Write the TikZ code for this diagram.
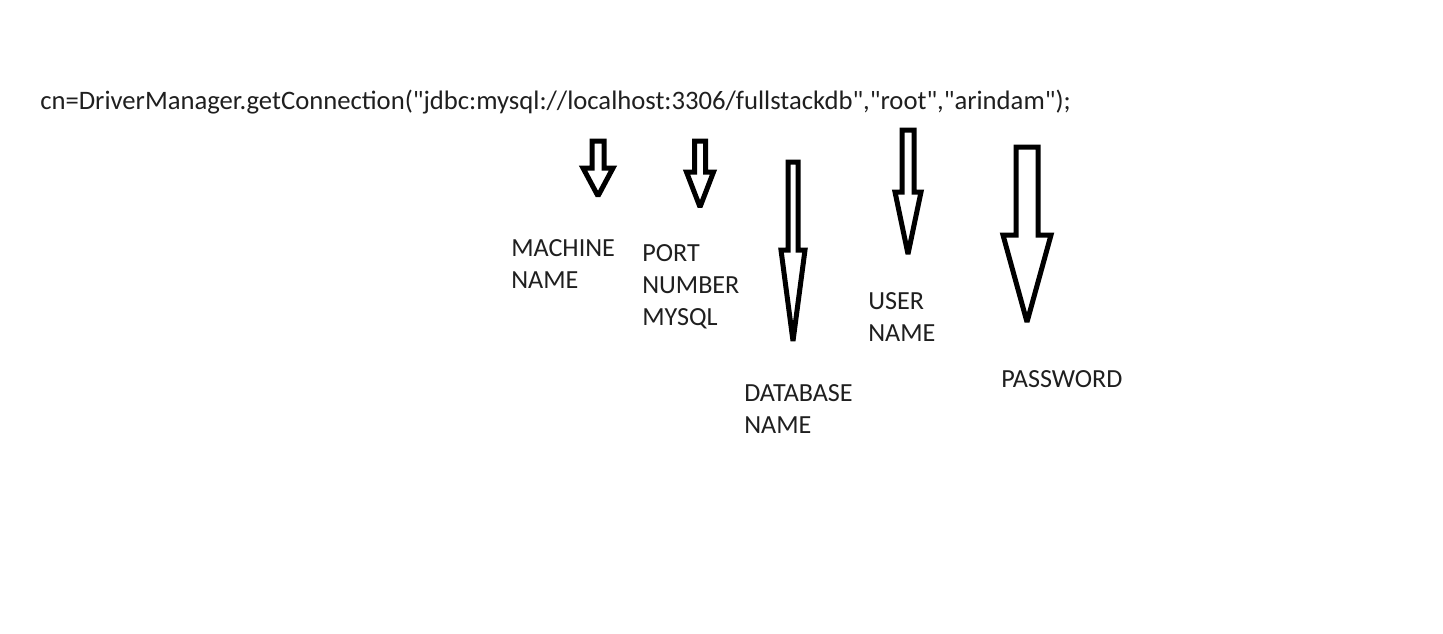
\documentclass[tikz,border=0pt]{standalone}
\usepackage{fontspec}
\setmainfont{Carlito}[Ligatures=TeXOff]
\usetikzlibrary{positioning}
\tikzset{
  lbl/.style = {anchor=north west, inner sep=0pt, align=left, text=black!88,
    font=\fontsize{19.6}{24}\selectfont},
  blockarrow/.style = {draw=black, line width=3.75pt, line join=miter,
    miter limit=2}
}

\begin{document}
\begin{tikzpicture}[x=0.75pt,y=-0.75pt]
\useasboundingbox (0,0) rectangle (1443,633);
\node [lbl, anchor=base west, font=\fontsize{20}{24}\selectfont] (conn) at (40,109)
  {cn=DriverManager.getConnection("jdbc:mysql://localhost:3306/fullstackdb","root","arindam");};
% block arrows: centre x, top, shaft half width, head start, head half width, tip
\foreach \cx/\top/\sw/\hy/\hw/\tip in {598/141/6/168/15/196, 700/141/5.5/172/13.5/207,
  793/162/5/250/12/341, 908/130/6/192/13/254, 1027/147/11/235/24/322}
  \draw [blockarrow] (\cx-\sw,\top) -- (\cx+\sw,\top) -- (\cx+\sw,\hy) -- (\cx+\hw,\hy)
    -- (\cx,\tip) -- (\cx-\hw,\hy) -- (\cx-\sw,\hy) -- cycle;
\node [lbl] (machine) at (511,239) {MACHINE\\NAME};
\node [lbl] (port) at (642,244) {PORT\\NUMBER\\MYSQL};
\node [lbl] (dbname) at (744,384) {DATABASE\\NAME};
\node [lbl] (user) at (868,292) {USER\\NAME};
\node [lbl] (pass) at (1001,370) {PASSWORD};
\end{tikzpicture}
\end{document}
